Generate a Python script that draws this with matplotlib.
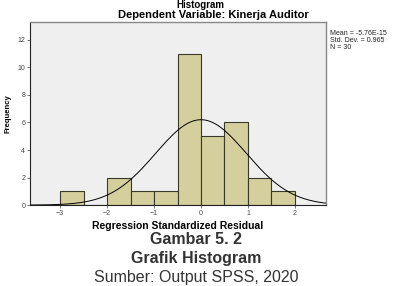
#!/usr/bin/env python3

import numpy as np
import matplotlib.pyplot as plt

plt.rcParams['font.family'] = ['Liberation Sans', 'DejaVu Sans']

# -- data --
bin_edges  = [-3.0, -2.5, -2.0, -1.5, -1.0, -0.5, 0.0, 0.5, 1.0, 1.5, 2.0]
counts     = [1, 0, 2, 1, 1, 11, 5, 6, 2, 1]
mean       = 0.0
std_dev    = 0.965
n_obs      = 30
x_ticks    = [-3, -2, -1, 0, 1, 2]
y_ticks    = [0, 2, 4, 6, 8, 10, 12]
stats_text = ['Mean = -5.76E-15', 'Std. Dev. = 0.965', 'N = 30']

fig = plt.figure(figsize=(3.96, 2.86), dpi=100)
ax = fig.add_axes([0.076, 0.283, 0.747, 0.64])
ax.set_facecolor('#efefef')

lefts  = bin_edges[:-1]
widths = np.diff(bin_edges)
ax.bar(
    lefts, counts, width=widths, align='edge',
    color     = '#d4cf9c',
    edgecolor = '#3a3a2a',
    linewidth = 0.8,
)

# normal curve scaled to counts
xs = np.linspace(-3.64, 2.66, 300)
bw = widths[0]
ys = n_obs * bw * np.exp(-0.5 * ((xs - mean) / std_dev) ** 2) / (std_dev * np.sqrt(2 * np.pi))
ax.plot(xs, ys, color='black', linewidth=0.7)

ax.set_xlim(-3.64, 2.66)
ax.set_ylim(0, 13.3)
ax.set_xticks(x_ticks)
ax.set_yticks(y_ticks)
ax.tick_params(labelsize=5, length=2, width=0.5, pad=1.5, colors='#444444')

for side in ['left', 'bottom']:
    ax.spines[side].set_color('#222222')
    ax.spines[side].set_linewidth(0.8)
for side in ['top', 'right']:
    ax.spines[side].set_color('#888888')
    ax.spines[side].set_linewidth(1.0)

ax.set_xlabel('Regression Standardized Residual', fontsize=7.5, fontweight='bold', labelpad=3)
ax.set_ylabel('Frequency', fontsize=5.5, fontweight='bold', labelpad=4)

fig.text(0.505, 1.0, 'Histogram', ha='center', va='top', fontsize=7, fontweight='bold')
fig.text(0.54, 0.947, 'Dependent Variable: Kinerja Auditor',
         ha='center', va='center', fontsize=8, fontweight='bold')

fig.text(0.833, 0.895, '\n'.join(stats_text), ha='left', va='top',
         fontsize=5, linespacing=0.95, color='#222222')

fig.text(0.495, 0.162, 'Gambar 5. 2', ha='center', va='center',
         fontsize=11.5, fontweight='bold', color='#333333')
fig.text(0.495, 0.095, 'Grafik Histogram', ha='center', va='center',
         fontsize=11.5, fontweight='bold', color='#333333')
fig.text(0.495, 0.002, 'Sumber: Output SPSS, 2020', ha='center', va='bottom',
         fontsize=11.5, color='#333333')

plt.savefig('out.png', dpi=100, facecolor='white')
plt.close()
